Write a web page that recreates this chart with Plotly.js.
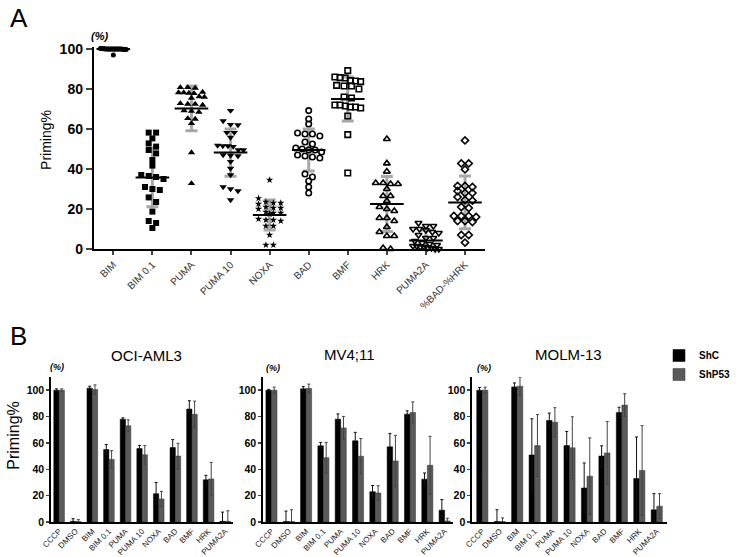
<!DOCTYPE html>
<html>
<head>
<meta charset="utf-8">
<script src="https://cdn.plot.ly/plotly-3.0.1.min.js"></script>
<style>html,body{margin:0;padding:0;background:#fff;}#chart{width:736px;height:557px;}</style>
</head>
<body>
<div id="chart"></div>
<script>
// ---------- Panel A data ----------
const catsA = ['BIM','BIM 0.1','PUMA','PUMA 10','NOXA','BAD','BMF','HRK','PUMA2A','%BAD-%HRK'];
const bimPts = [100,100,100,100.2,99.8,100,100,100.1,99.9,100,100,100,100.2,99.8,100,100,100,100.1,99.9,100,100,97];
const bim01Pts = [58.2,58.2,55.3,52.8,51.2,49.5,47.8,44.5,41.7,37,36.5,36,35,31,30,29.5,25.8,23.5,18.7,14,13,10.5];
const pumaPts = [80.8,80.8,80.5,78.2,78.2,78.5,77.8,78,76.2,76,75.5,72.5,72.5,72,72.8,69.2,69,68.5,65.3,65,62.8,48.2,32.8];
const puma10Pts = [69.2,64,62.2,62,58.2,58.2,55.8,51.5,51.5,51.8,51.2,49.5,49.5,47,46.5,46.8,43.7,40.3,37,30,29,31,24.5];
const noxaPts = [34.5,25.3,23,23.5,22.5,23,20.5,21,20,20.5,18,18.5,17.5,18,14.5,14,15,14.5,11.5,11.5,7,2,2];
const badPts = [69.2,65,62.5,58,57.5,57.5,56.5,53.5,52.5,50.5,50,49.5,49.5,48.5,47,46.5,46,45.5,37.5,36,34,31,28];
const bmfPts = [89.2,86,85.5,85.7,84,83.7,84.2,81.5,81.8,81.5,80,76,75.5,72,71,71.5,71,72,70.5,66.5,57.2,38];
const hrkPts = [55,42.8,38.7,33,32.5,32.5,33,30,26.5,26.5,24,21,20,19,15.5,15.5,14,11,6.5,6.5,8.5,0.5,0];
const puma2aPts = [13,11.5,11.5,10,9.5,10,8.5,8,7,5.5,5.5,4,3,2.5,2,1.5,1.5,1,1,0.5,0.5,0,0];
const diffPts = [54.3,42.8,42.8,39.8,31.5,31,31.5,29,28,28,26,24.2,24.5,21,20.5,16.5,16.5,16,16.5,14,14,13.5,7,7,3.2];
const meanA = [100,35.8,70.3,48.2,17,49.5,75,22.5,4.2,23.3];
const sdA = [0.5,14.7,11.2,11.8,7.5,10.5,11,13.8,5.2,13.2];
const ticksA = [0,20,40,60,80,100];

// ---------- Panel B data ----------
const catsB = ['CCCP','DMSO','BIM','BIM 0.1','PUMA','PUMA 10','NOXA','BAD','BMF','HRK','PUMA2A'];
const ociShC = [100,0.5,101.5,55,78,55.7,21.5,56.5,85.7,32,0.5];
const ociShCErr = [1,2,1.5,3.7,1,2.4,8.5,6,6.3,3.4,7];
const ociShP = [100,0.3,100.5,47.5,73,51,17.5,50,81.7,32.7,0.5];
const ociShPErr = [1,1.5,3.5,6.6,4.5,7,5.7,9.7,10,12.5,8];
const mvShC = [100,0.3,101,57.8,78,61.6,23,57,81.8,32.5,9];
const mvShCErr = [0.6,8,1.7,2.6,4,6.4,4.7,10.2,2.6,4.7,8];
const mvShP = [100,0.3,101.3,48.8,71.4,49.9,22,46.3,83.1,43,0.8];
const mvShPErr = [2.3,9,3.3,11.6,8.7,13.4,5.5,19.4,8,22,2];
const molmShC = [100,0.3,102.5,50.9,77,58,25.8,50.1,83.1,33,9.2];
const molmShCErr = [2,9,3,27.4,5.6,10.7,19,7.7,4,31.5,12.3];
const molmShP = [100,0.3,103,58,75.7,56.3,34.8,52.4,88.7,39.1,12];
const molmShPErr = [2.3,2.8,6.9,23.5,11,23.5,29,23.8,8.6,34,9.5];
const ticksB = [0,20,40,60,80,100];
const seriesNames = ['ShC','ShP53'];

// ---------- helpers ----------
const FONT = 'Arial, "Liberation Sans", sans-serif';
function swarm(vals, idx){
  const order = vals.map((v,i)=>[v,i]).sort((a,b)=>b[0]-a[0]);
  const xs = new Array(vals.length);
  let g = [], start = null;
  const flush = () => {
    const n = g.length;
    const step = n > 1 ? Math.min(0.19, 0.66/(n-1)) : 0;
    g.forEach((k,j)=>{ xs[k] = idx + (j-(n-1)/2)*step; });
    g = [];
  };
  for (const [v,i] of order){
    if (start === null || start - v > 2.4){ flush(); start = v; }
    g.push(i);
  }
  flush();
  return xs;
}
const bold = arr => arr.map(v => '<b>' + v + '</b>');

const ptsA = [bimPts,bim01Pts,pumaPts,puma10Pts,noxaPts,badPts,bmfPts,hrkPts,puma2aPts,diffPts];
const symA = ['circle','square','triangle-up','triangle-down','star','circle-open','square-open','triangle-up-open','triangle-down-open','diamond-open'];
const sizeA = [5,6,6.5,6.5,5.5,5.5,5.5,6,6,5.5];
const idxA = catsA.map((c,i)=>i);

const traces = [];
// SD bars (gray)
traces.push({type:'scatter', mode:'markers', x: idxA, y: meanA, xaxis:'x', yaxis:'y',
  marker:{opacity:0, size:1}, showlegend:false, hoverinfo:'skip',
  error_y:{type:'data', array: sdA, visible:true, color:'#a8a8a8', thickness:3, width:6}});
// points
ptsA.forEach((p,i)=>{
  traces.push({type:'scatter', mode:'markers', x: swarm(p,i), y: p, xaxis:'x', yaxis:'y',
    cliponaxis:false, showlegend:false, name: catsA[i],
    marker:{symbol: symA[i], size: sizeA[i], color:'#000', line:{color:'#000', width: symA[i].includes('open')?1.6:0}}});
});
// mean lines
traces.push({type:'scatter', mode:'markers', x: idxA, y: meanA, xaxis:'x', yaxis:'y',
  cliponaxis:false, showlegend:false, hoverinfo:'skip',
  marker:{symbol:'line-ew', size:24, color:'#000', line:{color:'#000', width:2}}});

// Panel B bars
const idxB = catsB.map((c,i)=>i);
const groups = [
  [ociShC, ociShCErr, ociShP, ociShPErr, 'x2','y2'],
  [mvShC, mvShCErr, mvShP, mvShPErr, 'x3','y3'],
  [molmShC, molmShCErr, molmShP, molmShPErr, 'x4','y4']
];
groups.forEach((g,gi)=>{
  traces.push({type:'bar', x: idxB, y: g[0], xaxis:g[4], yaxis:g[5], name: seriesNames[0],
    legendgroup:'shc', showlegend: gi===0,
    marker:{color:'#000', line:{color:'#000', width:0.5}},
    error_y:{type:'data', array:g[1], visible:true, color:'#111', thickness:1, width:1.5}});
  traces.push({type:'bar', x: idxB, y: g[2], xaxis:g[4], yaxis:g[5], name: seriesNames[1],
    legendgroup:'shp', showlegend: gi===0,
    marker:{color:'#5a5a5a', line:{color:'#333', width:0.5}},
    error_y:{type:'data', array:g[3], visible:true, color:'#444', thickness:1, width:1.5}});
});

const W = 736, H = 557;
const px = v => v / W, py = v => 1 - v / H;

function bAxisX(d0, d1, anchor, r){
  return {domain:[px(d0), px(d1)], range:r, anchor:anchor, tickvals: idxB, ticktext: catsB,
    tickangle:-45, tickfont:{family:FONT, size:8, color:'#222'}, showline:true, linecolor:'#000',
    linewidth:1.5, ticks:'', showgrid:false, zeroline:false, fixedrange:true};
}
function bAxisY(anchor){
  return {domain:[py(522), py(377)], range:[0,110], anchor:anchor, tickvals: ticksB, ticktext: bold(ticksB),
    tickfont:{family:FONT, size:10.5, color:'#000'}, showline:true, linecolor:'#000',
    linewidth:1.5, ticks:'outside', ticklen:3, tickwidth:1.5, showgrid:false, zeroline:false, fixedrange:true};
}
function ann(text, x, y, size, extra){
  return Object.assign({text:text, x:px(x), y:py(y), xref:'paper', yref:'paper', xanchor:'center', yanchor:'middle',
    showarrow:false, font:{family:FONT, size:size, color:'#000'}}, extra || {});
}

const layout = {
  width: W, height: H, margin:{l:0, r:0, t:0, b:0},
  paper_bgcolor:'#fff', plot_bgcolor:'rgba(0,0,0,0)',
  font:{family:FONT, color:'#000'},
  barmode:'group', bargap:0.36, bargroupgap:0,
  xaxis:{domain:[px(96), px(496)], range:[-0.5,9.5], anchor:'y', tickvals: idxA, ticktext: catsA,
    tickangle:-45, tickfont:{family:FONT, size:10, color:'#333'}, showline:true, linecolor:'#000',
    linewidth:2, ticks:'outside', ticklen:4, tickwidth:2, showgrid:false, zeroline:false, fixedrange:true},
  yaxis:{domain:[py(249), py(47)], range:[0,101], anchor:'x', tickvals: ticksA, ticktext: bold(ticksA),
    tickfont:{family:FONT, size:14, color:'#000'}, showline:true, linecolor:'#000',
    linewidth:2, ticks:'outside', ticklen:6, tickwidth:2, showgrid:false, zeroline:false, fixedrange:true},
  xaxis2: bAxisX(52, 239, 'y2', [-0.5,10.5]),
  yaxis2: bAxisY('x2'),
  xaxis3: bAxisX(269, 464, 'y3', [-0.5,10.5]),
  yaxis3: bAxisY('x3'),
  xaxis4: bAxisX(483, 683, 'y4', [-0.6,10.6]),
  yaxis4: bAxisY('x4'),
  showlegend:true,
  legend:{x: px(675), y: py(341), xanchor:'left', yanchor:'top', bgcolor:'rgba(0,0,0,0)',
    font:{family:FONT, size:10, weight:'bold'}, itemwidth:30, tracegroupgap:0, traceorder:'normal'},
  annotations:[
    ann('A', 8, 18, 26, {xanchor:'left'}),
    ann('B', 8, 336, 26, {xanchor:'left'}),
    ann('<b><i>(%)</i></b>', 102, 36, 11),
    ann('Priming%', 47, 140, 14, {textangle:-90}),
    ann('Priming%', 13, 436, 16, {textangle:-90}),
    ann('OCI-AML3', 150, 355, 15),
    ann('MV4;11', 358, 354, 15),
    ann('MOLM-13', 582, 354, 15),
    ann('<b><i>(%)</i></b>', 58, 367, 9),
    ann('<b><i>(%)</i></b>', 279, 368, 9),
    ann('<b><i>(%)</i></b>', 495, 368, 9)
  ]
};

Plotly.newPlot('chart', traces, layout, {displayModeBar:false, staticPlot:true});
</script>
</body>
</html>
